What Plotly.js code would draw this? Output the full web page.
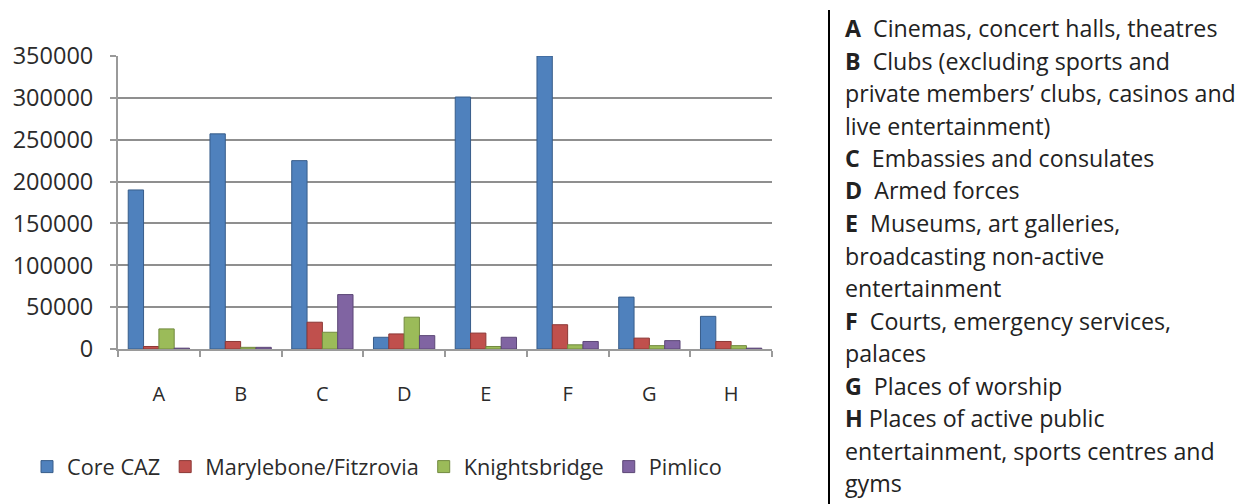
<!DOCTYPE html>
<html>
<head>
<meta charset="utf-8">
<script src="https://cdn.plot.ly/plotly-3.0.1.min.js"></script>
<style>html,body{margin:0;padding:0;background:#fff;}#chart{width:1241px;height:504px;}</style>
</head>
<body>
<div id="chart"></div>
<script>
// ---- data ----
const categories = ["A", "B", "C", "D", "E", "F", "G", "H"];
const seriesNames = ["Core CAZ", "Marylebone/Fitzrovia", "Knightsbridge", "Pimlico"];
const coreCAZ = [190000, 257000, 225000, 14000, 301000, 350000, 62000, 39000];
const maryleboneFitzrovia = [3000, 9000, 32000, 18000, 19000, 29000, 13000, 9000];
const knightsbridge = [24000, 2000, 20000, 38000, 3000, 5000, 4000, 4000];
const pimlico = [1000, 2000, 65000, 16000, 14000, 9000, 10000, 1000];
const yTickValues = [0, 50000, 100000, 150000, 200000, 250000, 300000, 350000];
const yTickLabels = ["0", "50000", "100000", "150000", "200000", "250000", "300000", "350000"];
const noteLines = [
  ["A", "Cinemas, concert halls, theatres"],
  ["B", "Clubs (excluding sports and"],
  ["", "private members’ clubs, casinos and"],
  ["", "live entertainment)"],
  ["C", "Embassies and consulates"],
  ["D", "Armed forces"],
  ["E", "Museums, art galleries,"],
  ["", "broadcasting non-active"],
  ["", "entertainment"],
  ["F", "Courts, emergency services,"],
  ["", "palaces"],
  ["G", "Places of worship"],
  ["H", "Places of active public"],
  ["", "entertainment, sports centres and"],
  ["", "gyms"]
];

// ---- layout helpers ----
const W = 1241, H = 504;
const M = {l: 118, r: 469, t: 56, b: 155};
const PW = W - M.l - M.r, PH = H - M.t - M.b;
const px2x = p => (p - M.l) / PW;
const px2y = p => (H - M.b - p) / PH;

const colors = ["#4F81BD", "#C0504D", "#9BBB59", "#8064A2"];
const edge = ["#385D8A", "#8C3836", "#71893F", "#5C4776"];
const seriesValues = [coreCAZ, maryleboneFitzrovia, knightsbridge, pimlico];

const FONT = "'Open Sans', Lato, sans-serif";

const traces = seriesValues.map((vals, i) => ({
  type: "bar",
  name: seriesNames[i],
  x: categories,
  y: vals,
  marker: {color: colors[i], line: {color: edge[i], width: 1}},
  hoverinfo: "x+y+name"
}));

const annotations = noteLines.map((ln, i) => ({
  xref: "paper", yref: "paper",
  x: px2x(843), y: px2y(28 + i * 32.5),
  xanchor: "left", yanchor: "middle",
  showarrow: false,
  align: "left",
  text: (ln[0] ? "<b>" + ln[0] + "</b>" + (ln[0] === "H" ? "\u00a0" : "\u00a0\u00a0") : "") + ln[1],
  font: {family: FONT, size: 23.2, color: "#222222"}
}));

const layout = {
  width: W, height: H,
  margin: M,
  paper_bgcolor: "#ffffff",
  plot_bgcolor: "#ffffff",
  font: {family: FONT, color: "#2b2b2b"},
  barmode: "group",
  bargap: 0.25,
  bargroupgap: 0,
  showlegend: true,
  legend: {
    orientation: "h",
    x: px2x(27), y: px2y(467),
    xanchor: "left", yanchor: "middle",
    font: {family: FONT, size: 21.7, color: "#2b2b2b"},
    traceorder: "normal"
  },
  xaxis: {
    type: "category",
    showgrid: false,
    showline: true, linecolor: "#9a9a9a", linewidth: 2,
    ticks: "outside", tickson: "boundaries", ticklen: 6, tickcolor: "#9a9a9a", tickwidth: 2,
    ticklabelstandoff: 26,
    tickfont: {family: FONT, size: 20, color: "#2b2b2b"},
    fixedrange: true
  },
  yaxis: {
    range: [0, 350000],
    tickvals: yTickValues,
    ticktext: yTickLabels,
    showgrid: true, gridcolor: "#8f8f8f", gridwidth: 2,
    zeroline: false,
    showline: true, linecolor: "#9a9a9a", linewidth: 2,
    ticks: "outside", ticklen: 6, tickcolor: "#9a9a9a", tickwidth: 2,
    ticklabelstandoff: 12,
    tickfont: {family: FONT, size: 23.5, color: "#2b2b2b"},
    fixedrange: true
  },
  shapes: [{
    type: "line", xref: "paper", yref: "paper",
    x0: px2x(829), x1: px2x(829), y0: px2y(10), y1: px2y(504),
    line: {color: "#000000", width: 2}
  }],
  annotations: annotations
};

Plotly.newPlot("chart", traces, layout, {displayModeBar: false, staticPlot: true});
</script>
</body>
</html>
